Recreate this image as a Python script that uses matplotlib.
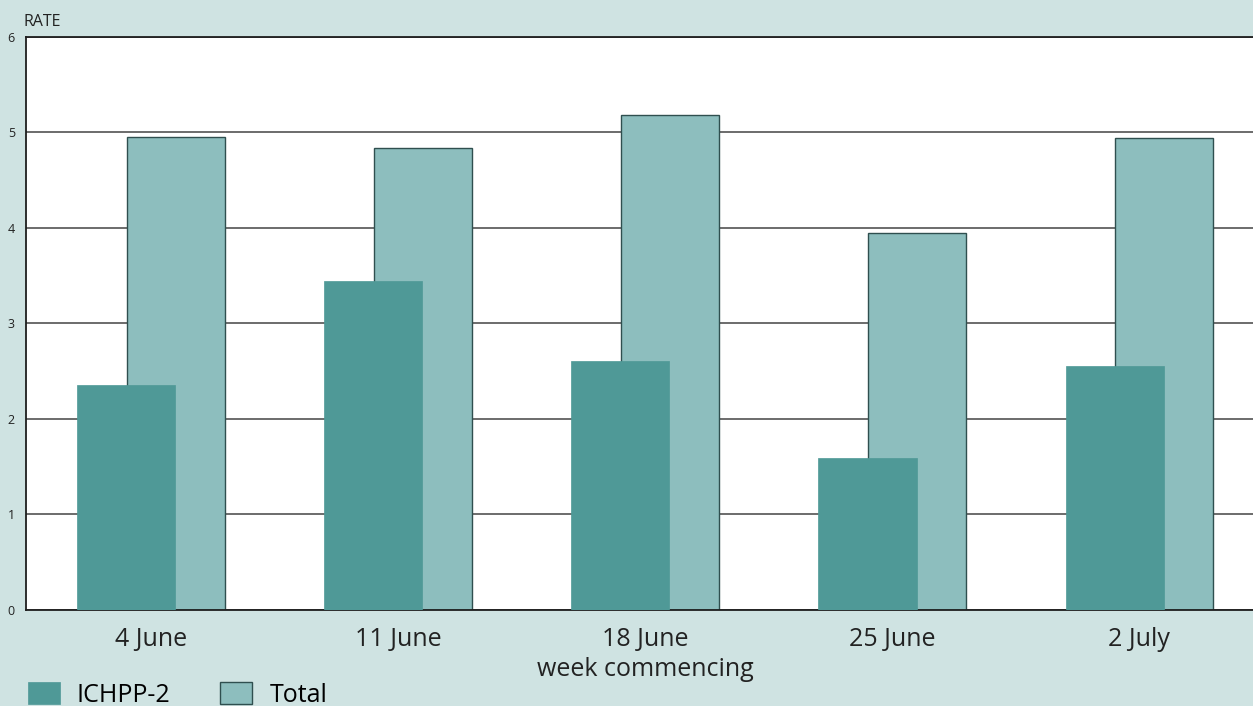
import numpy as np
import matplotlib.pyplot as plt

weeks = ["4 June", "11 June", "18 June", "25 June", "2 July"]
ichpp = [2.36, 3.44, 2.61, 1.59, 2.55]
total = [4.95, 4.84, 5.18, 3.95, 4.94]

BG = "#cfe3e2"
C_ICHPP = "#4f9997"
C_TOTAL = "#8dbebe"

plt.rcParams['font.family'] = ['Open Sans', 'DejaVu Sans']

fig = plt.figure(figsize=(12.53, 7.06), dpi=100, facecolor=BG)
ax = fig.add_axes([0.0207, 0.136, 0.9793, 0.8116])
ax.set_facecolor("white")

x = np.arange(len(weeks))
w = 0.397
ax.bar(x + 0.1, total, w, color=C_TOTAL, edgecolor="#2f4f4f", linewidth=1.0, zorder=2, label="Total")
ax.bar(x - 0.1, ichpp, w, color=C_ICHPP, edgecolor=C_ICHPP, linewidth=0.5, zorder=3, label="ICHPP-2")

ax.set_xlim(-0.506, 4.46)
ax.set_ylim(0, 6)
ax.set_yticks(range(7))
ax.set_yticklabels([str(i) for i in range(7)], fontsize=9, color="#222222")
ax.yaxis.grid(True, color="#444444", linewidth=1.1, zorder=1)
ax.set_axisbelow(True)
ax.tick_params(axis="y", length=0, pad=8)
ax.tick_params(axis="x", length=0, pad=12)
ax.set_xticks(x)
ax.set_xticklabels(weeks, fontsize=18, color="#222222")

for s in ["left", "top", "bottom"]:
    ax.spines[s].set_color("#1e1e1e")
    ax.spines[s].set_linewidth(1.3)
ax.spines["right"].set_visible(False)

ax.text(-0.002, 1.012, "RATE", transform=ax.transAxes, fontsize=11.5, color="#222222", ha="left", va="bottom")
fig.text(0.515, 0.051, "week commencing", fontsize=18, color="#222222", ha="center", va="center")

h_t, l_t = ax.get_legend_handles_labels()
fig.legend([h_t[1], h_t[0]], [l_t[1], l_t[0]], loc="upper left", bbox_to_anchor=(0.022, 0.034),
           ncol=2, frameon=False, fontsize=18, handlelength=1.28, handleheight=1.0,
           columnspacing=2.0, handletextpad=0.68, borderaxespad=0, borderpad=0)

fig.savefig("out.png", dpi=100, facecolor=BG)
